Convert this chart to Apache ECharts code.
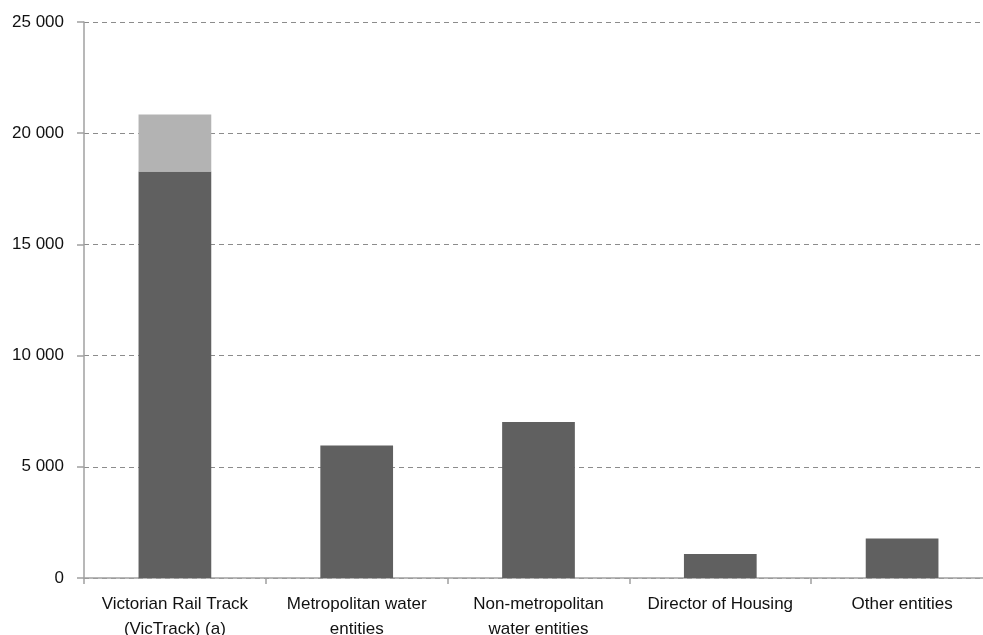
<!DOCTYPE html>
<html>
<head>
<meta charset="utf-8">
<script src="https://cdn.jsdelivr.net/npm/echarts@6/dist/echarts.min.js"></script>
<style>
html,body{margin:0;padding:0;background:#fff;overflow:hidden;}
#chart{width:983px;height:635px;}
</style>
</head>
<body>
<div id="chart"></div>
<script>
const categories = [
  "Victorian Rail Track\n(VicTrack) (a)",
  "Metropolitan water\nentities",
  "Non-metropolitan\nwater entities",
  "Director of Housing",
  "Other entities"
];
const baseValues = [18280, 5960, 7020, 1080, 1780];
const extraValues = [2560, null, null, null, null];
const yTicks = { min: 0, max: 25000, interval: 5000 };

const chart = echarts.init(document.getElementById('chart'));
const fontFamily = "'Liberation Sans', Arial, sans-serif";
chart.setOption({
  animation: false,
  backgroundColor: '#ffffff',
  grid: { left: 84, right: -10, top: 22, bottom: 57, containLabel: false, outerBoundsMode: 'none' },
  xAxis: {
    type: 'category',
    data: categories,
    axisLine: { lineStyle: { color: '#a0a0a0', width: 1.5 } },
    axisTick: { show: true, length: 6, lineStyle: { color: '#a0a0a0', width: 1.5 } },
    axisLabel: { color: '#111', fontSize: 17, fontFamily: fontFamily, margin: 14, lineHeight: 25, interval: 0 }
  },
  yAxis: {
    type: 'value',
    min: yTicks.min, max: yTicks.max, interval: yTicks.interval,
    axisLine: { show: true, lineStyle: { color: '#a0a0a0', width: 1.5 } },
    axisTick: { show: true, length: 7, lineStyle: { color: '#a0a0a0', width: 1.5 } },
    axisLabel: {
      color: '#111', fontSize: 17, fontFamily: fontFamily, margin: 20,
      formatter: v => String(v).replace(/\B(?=(\d{3})+(?!\d))/g, ' ')
    },
    splitLine: { show: true, lineStyle: { color: '#8c8c8c', type: [5, 4], width: 1.2 } }
  },
  series: [
    {
      type: 'bar', stack: 'total', data: baseValues, barWidth: '40%',
      itemStyle: { color: '#606060' }
    },
    {
      type: 'bar', stack: 'total', data: extraValues, barWidth: '40%',
      itemStyle: { color: '#b3b3b3' }
    }
  ]
});
</script>
</body>
</html>
